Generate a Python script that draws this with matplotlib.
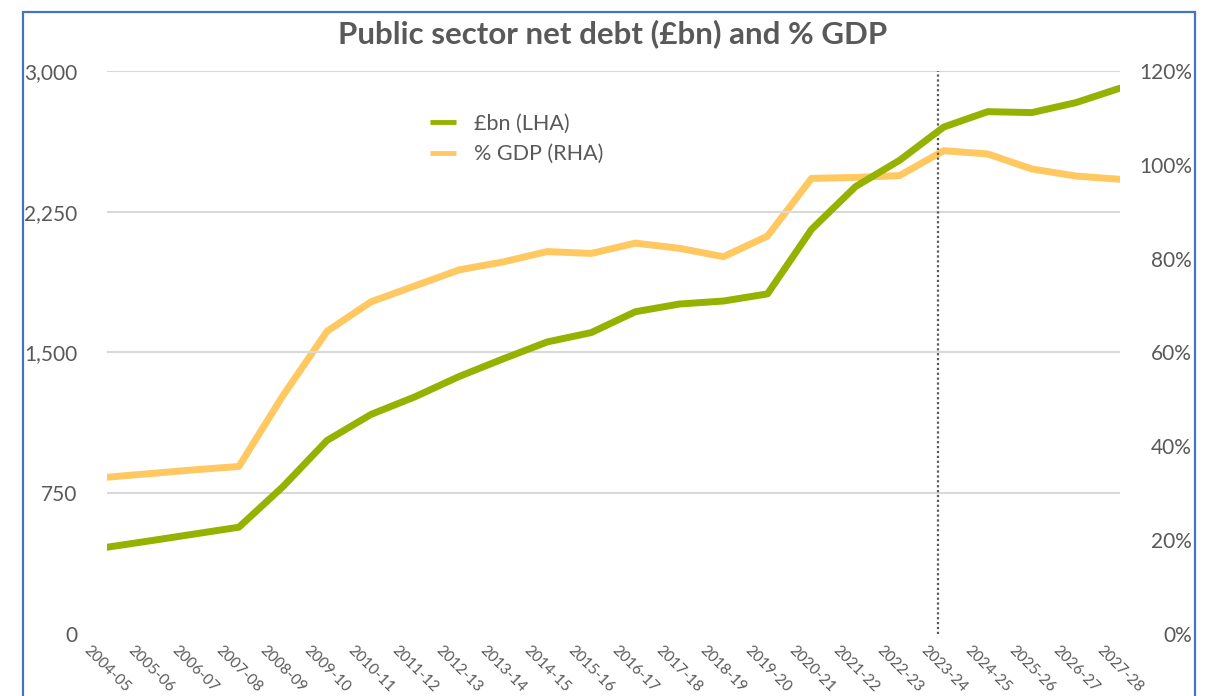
import matplotlib
matplotlib.use('Agg')
import matplotlib.pyplot as plt
from matplotlib.patches import Rectangle

plt.rcParams['font.family'] = ['Lato', 'DejaVu Sans']

years = ['2004-05', '2005-06', '2006-07', '2007-08', '2008-09', '2009-10',
         '2010-11', '2011-12', '2012-13', '2013-14', '2014-15', '2015-16',
         '2016-17', '2017-18', '2018-19', '2019-20', '2020-21', '2021-22',
         '2022-23', '2023-24', '2024-25', '2025-26', '2026-27', '2027-28']

# net debt, £bn (left axis)
debt_bn = [462, 497, 533, 569, 785, 1031, 1170, 1264, 1372, 1466, 1556, 1606,
           1717, 1758, 1774, 1812, 2156, 2384, 2524, 2701, 2783, 2778, 2831, 2908]

# net debt, % of GDP (right axis)
debt_pct = [33.4, 34.2, 35.0, 35.7, 50.8, 64.5, 70.8, 74.2, 77.6, 79.3, 81.5, 81.1,
            83.3, 82.2, 80.4, 84.8, 97.1, 97.3, 97.7, 103.0, 102.3, 99.1, 97.6, 96.9]

forecast_start = 18.86

left_ticks = [0, 750, 1500, 2250, 3000]
right_ticks = [0, 20, 40, 60, 80, 100, 120]

green = '#95b200'
amber = '#ffc861'
grey_text = '#595959'

fig = plt.figure(figsize=(12.09, 6.96), dpi=100)
ax = fig.add_axes([0.0883, 0.0891, 0.838, 0.809])
ax2 = ax.twinx()

x = list(range(len(years)))
l1, = ax.plot(x, debt_bn, color=green, lw=5, solid_capstyle='round',
              solid_joinstyle='round', label='£bn (LHA)', zorder=4)
l2, = ax2.plot(x, debt_pct, color=amber, lw=5, solid_capstyle='round',
               solid_joinstyle='round', label='% GDP (RHA)', zorder=3)
ax.set_zorder(ax2.get_zorder() + 1)
ax.patch.set_visible(False)

ax.axvline(forecast_start, ymin=0, ymax=1, color='#595959', lw=1.6,
           linestyle=(0, (1, 1.2)), zorder=2)

ax.set_xlim(0, len(years) - 1)
ax.set_ylim(0, 3000)
ax2.set_ylim(0, 120)

ax.set_yticks(left_ticks)
ax.set_yticklabels([f'{v:,}' for v in left_ticks])
ax2.set_yticks(right_ticks)
ax2.set_yticklabels([f'{v}%' for v in right_ticks])
ax.set_xticks(x)
ax.set_xticklabels(years, rotation=-45, ha='center', va='top')

ax.grid(axis='y', color='#d9d9d9', lw=1.5)
ax.get_ygridlines()[0].set_visible(False)
ax.set_axisbelow(True)

for a in (ax, ax2):
    for s in a.spines.values():
        s.set_visible(False)
    a.tick_params(length=0, colors=grey_text)

ax.tick_params(axis='y', labelsize=15, pad=21)
ax.tick_params(axis='x', labelsize=11, pad=7)
ax2.tick_params(axis='y', labelsize=15, pad=52)
for lab in ax2.get_yticklabels():
    lab.set_horizontalalignment('right')

fig.text(0.507, 0.951, 'Public sector net debt (£bn) and % GDP', ha='center',
         va='center', fontsize=22.5, fontweight='bold', color=grey_text)

leg = fig.legend(handles=[l1, l2], loc='upper left', bbox_to_anchor=(0.3557, 0.837),
                 frameon=False, fontsize=15.5, handlelength=1.2, handletextpad=0.85,
                 labelspacing=0.5, borderpad=0, borderaxespad=0)
for t in leg.get_texts():
    t.set_color(grey_text)
for h in leg.legend_handles:
    h.set_linewidth(3.5)
    h.set_solid_capstyle('butt')

# chart frame
fig.patches.append(Rectangle((23 / 1209, -0.05), (1195 - 23) / 1209, 1.05 - 12 / 696,
                             transform=fig.transFigure, fill=False,
                             edgecolor='#4472c4', lw=1.6))

fig.savefig('out.png', dpi=100)
